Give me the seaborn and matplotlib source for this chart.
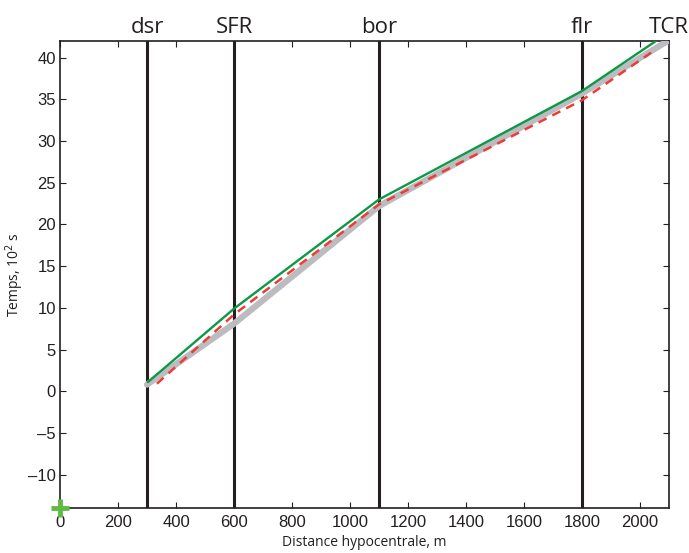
"""
Travel time versus hypocentral distance, with layer boundaries
marked as vertical lines.
"""

import matplotlib
matplotlib.use('Agg')
import matplotlib.pyplot as plt
import pandas as pd
import seaborn as sns

# Layer boundaries (m) and their names
layer_pos = [300, 600, 1100, 1800, 2100]
layer_names = ['dsr', 'SFR', 'bor', 'flr', 'TCR']

# Observed curve (grey band)
obs_x = [300, 600, 1100, 1800, 2095]
obs_y = [0.8, 8.1, 22.2, 35.7, 42.0]

# Model 1 (green)
green_x = [303, 600, 1100, 1800, 2055]
green_y = [1.1, 9.9, 23.0, 36.0, 42.0]

# Model 2 (red dashed)
red_x = [334, 600, 1100, 1800, 2038]
red_y = [0.9, 9.2, 22.4, 34.9, 40.6]


def make_df():
    frames = []
    for name, xs, ys in [('obs', obs_x, obs_y), ('green', green_x, green_y),
                         ('red', red_x, red_y)]:
        frames.append(pd.DataFrame({'dist': xs, 't': ys, 'curve': name}))
    return pd.concat(frames, ignore_index=True)


def main():
    sns.set_theme(style='ticks')
    plt.rcParams['font.family'] = ['Liberation Sans', 'DejaVu Sans']
    df = make_df()

    fig = plt.figure(figsize=(6.89, 5.53), dpi=100)
    ax = fig.add_axes([0.0871, 0.0814, 0.8839, 0.8445])

    for x in layer_pos[:-1]:
        ax.axvline(x, color='#231f20', lw=2.2, zorder=2)

    sns.lineplot(ax=ax, data=df[df['curve'] == 'obs'], x='dist', y='t',
                 color='#bcbcc0', lw=4.5, sort=False, estimator=None,
                 zorder=3)
    sns.lineplot(ax=ax, data=df[df['curve'] == 'green'], x='dist', y='t',
                 color='#0a9a45', lw=1.7, sort=False, estimator=None,
                 zorder=4)
    sns.lineplot(ax=ax, data=df[df['curve'] == 'red'], x='dist', y='t',
                 color='#ef3b36', lw=1.8, sort=False, estimator=None,
                 zorder=5, dashes=False, linestyle=(0, (3.6, 2.6)))

    # source marker at the origin corner
    ax.plot([0], [-14], marker='+', ms=13, mew=3.5, color='#5dbb46',
            clip_on=False, zorder=6)

    ax.set_xlim(0, 2100)
    ax.set_ylim(-14, 42)
    ax.set_xticks(range(0, 2001, 200))
    ax.set_yticks(range(-10, 41, 5))
    ax.set_yticklabels([str(v).replace('-', '\u2013') for v in
                        range(-10, 41, 5)])
    ax.tick_params(direction='in', length=4, width=0.8, colors='#231f20',
                   labelsize=12, top=True, right=True)
    ax.tick_params(axis='y', pad=3)
    ax.tick_params(axis='x', pad=5)
    for s in ax.spines.values():
        s.set_color('#231f20')
        s.set_linewidth(1.2)

    for x, name in zip(layer_pos, layer_names):
        ax.text(x, 42.3, name, ha='center', va='bottom', fontsize=16,
                family=['Open Sans', 'DejaVu Sans'], color='#231f20')

    ax.set_xlabel('Distance hypocentrale, m', fontsize=10,
                  family=['Open Sans', 'DejaVu Sans'], color='#231f20',
                  labelpad=4)
    ax.set_ylabel('Temps, 10$^{2}$ s', fontsize=10,
                  family=['Open Sans', 'DejaVu Sans'], color='#231f20')
    ax.yaxis.set_label_coords(-0.056, 0.5)

    fig.savefig('out.png', dpi=100)


if __name__ == '__main__':
    main()
